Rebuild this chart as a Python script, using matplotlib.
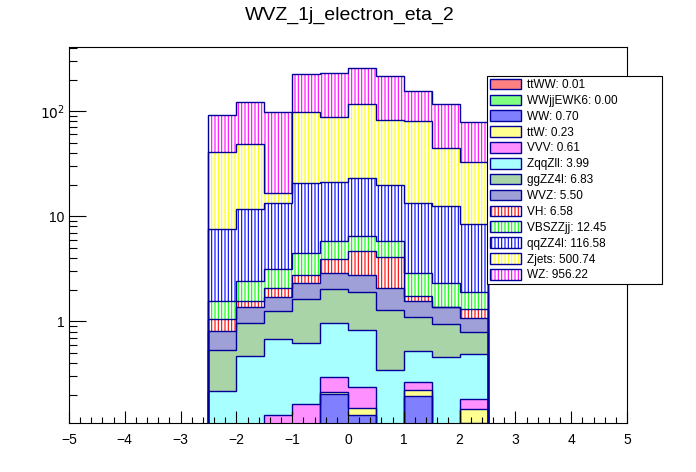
import numpy as np
import matplotlib
matplotlib.use("Agg")
import matplotlib.pyplot as plt
from matplotlib.patches import Patch
from matplotlib.legend_handler import HandlerTuple
from matplotlib.ticker import LogLocator, MultipleLocator, NullFormatter

plt.rcParams['font.family'] = ['Liberation Sans', 'DejaVu Sans']
plt.rcParams['hatch.linewidth'] = 0.8

# eta bins of the histograms (only -2.5..2.5 is filled)
eta_edges = [-2.5, -2.0, -1.5, -1.0, -0.5, 0.0, 0.5, 1.0, 1.5, 2.0, 2.5]

# per-process bin contents, bottom of the stack first
ttWW     = [0, 0, 0, 0, 0.002, 0.002, 0.002, 0.002, 0.002, 0]
WWjjEWK6 = [0, 0, 0, 0, 0, 0, 0, 0, 0, 0]
WW       = [0, 0, 0, 0, 0.204, 0.128, 0, 0.194, 0, 0.109]
ttW      = [0, 0, 0, 0, 0.008, 0.020, 0, 0.025, 0, 0.039]
VVV      = [0, 0, 0.128, 0.163, 0.082, 0.088, 0, 0.044, 0, 0.034]
ZqqZll   = [0.216, 0.465, 0.546, 0.455, 0.664, 0.591, 0.342, 0.255, 0.455, 0.304]
ggZZ4l   = [0.314, 0.492, 0.570, 1.000, 1.056, 1.058, 0.929, 0.573, 0.480, 0.300]
WVZ      = [0.273, 0.401, 0.446, 0.727, 0.847, 0.850, 0.790, 0.469, 0.422, 0.282]
VH       = [0.241, 0.191, 0.370, 0.410, 1.020, 1.895, 2.000, 0.167, 0.0, 0.233]
VBSZZjj  = [0.530, 0.900, 1.060, 1.675, 2.000, 1.930, 1.700, 1.130, 0.938, 0.586]
qqZZ4l   = [6.07, 9.40, 10.4, 16.1, 15.5, 16.35, 13.9, 10.65, 10.3, 6.64]
Zjets    = [32.8, 36.4, 3.3, 76.7, 65.7, 92.9, 61.9, 66.3, 32.5, 24.0]
WZ       = [50.6, 72.8, 80.4, 127.0, 142.0, 139.0, 132.5, 77.2, 72.9, 45.5]

names = ['ttWW', 'WWjjEWK6', 'WW', 'ttW', 'VVV', 'ZqqZll', 'ggZZ4l', 'WVZ',
         'VH', 'VBSZZjj', 'qqZZ4l', 'Zjets', 'WZ']
contents = [ttWW, WWjjEWK6, WW, ttW, VVV, ZqqZll, ggZZ4l, WVZ,
            VH, VBSZZjj, qqZZ4l, Zjets, WZ]
# yields printed in the legend
yields = [0.01, 0.00, 0.70, 0.23, 0.61, 3.99, 6.83, 5.50,
          6.58, 12.45, 116.58, 500.74, 956.22]

# fill: (colour, hatched?) ; checker patterns drawn as a light solid tone
colors = ['#ff8080', '#80ff80', '#8080ff', '#ffff90', '#ff90ff', '#a8ffff',
          '#a8d4a8', '#a0a0d8', '#ff0000', '#00ff00', '#0000ff', '#ffff00',
          '#ff00ff']
hatched = [False] * 8 + [True] * 5

tick_vals = [1, 10, 100]
tick_text = ['1', '10', r'$10^2$']

line_col = '#000099'
floor = 1e-3

fig = plt.figure(figsize=(6.96, 4.72), dpi=100)
ax = fig.add_axes([0.0991, 0.1028, 0.8018, 0.797])

handles = []
lower = np.full(len(eta_edges) - 1, floor)
cum = np.zeros(len(eta_edges) - 1)
for vals, col, hat in zip(contents, colors, hatched):
    cum = cum + np.array(vals)
    upper = np.maximum(cum, floor)
    if hat:
        ax.stairs(upper, eta_edges, baseline=lower, fill=True,
                  facecolor='none', edgecolor=col, hatch='|||||', linewidth=0)
        h = (Patch(facecolor='white', edgecolor=col, hatch='|||||', linewidth=0),
             Patch(facecolor='none', edgecolor=line_col, linewidth=1.0))
    else:
        ax.stairs(upper, eta_edges, baseline=lower, fill=True,
                  facecolor=col, edgecolor='none', linewidth=0)
        h = Patch(facecolor=col, edgecolor=line_col, linewidth=1.0)
    handles.append(h)
    lower = upper

# outlines of every cumulative histogram
cum = np.zeros(len(eta_edges) - 1)
for vals in contents:
    cum = cum + np.array(vals)
    ax.stairs(np.maximum(cum, floor), eta_edges, baseline=floor,
              color=line_col, linewidth=1.0)

ax.set_xlim(-5, 5)
ax.set_yscale('log')
ax.set_ylim(0.107, 405)
ax.set_yticks(tick_vals, labels=tick_text)
ax.yaxis.set_minor_locator(LogLocator(base=10, subs=np.arange(2, 10)))
ax.yaxis.set_minor_formatter(NullFormatter())
ax.xaxis.set_major_locator(MultipleLocator(1))
ax.xaxis.set_minor_locator(MultipleLocator(0.2))

ax.tick_params(which='both', direction='in', top=False, right=False,
               width=0.8, labelsize=10)
ax.tick_params(axis='x', which='major', length=8.6, pad=7)
ax.tick_params(axis='x', which='minor', length=4.3)
ax.tick_params(axis='y', which='major', length=12.2, pad=3)
ax.tick_params(axis='y', which='minor', length=5.8)
for s in ax.spines.values():
    s.set_linewidth(0.8)

labels = [f'{n}: {y:.2f}' for n, y in zip(names, yields)]
leg = fig.legend(handles, labels, loc='upper left',
                 bbox_to_anchor=(487.3 / 696, 1 - 75.7 / 472, 174.4 / 696, 0.0),
                 mode='expand', borderaxespad=0, fontsize=8.5, frameon=True,
                 fancybox=False, edgecolor='black', framealpha=1,
                 handlelength=2.6, handleheight=1.0, handletextpad=0.5,
                 labelspacing=0.3, borderpad=0.25,
                 handler_map={tuple: HandlerTuple(ndivide=1, pad=0)})
leg.get_frame().set_linewidth(0.8)

fig.text(0.503, 1 - 20 / 472, 'WVZ_1j_electron_eta_2', ha='center',
         va='baseline', fontsize=14)

fig.savefig('out.png', dpi=100)
